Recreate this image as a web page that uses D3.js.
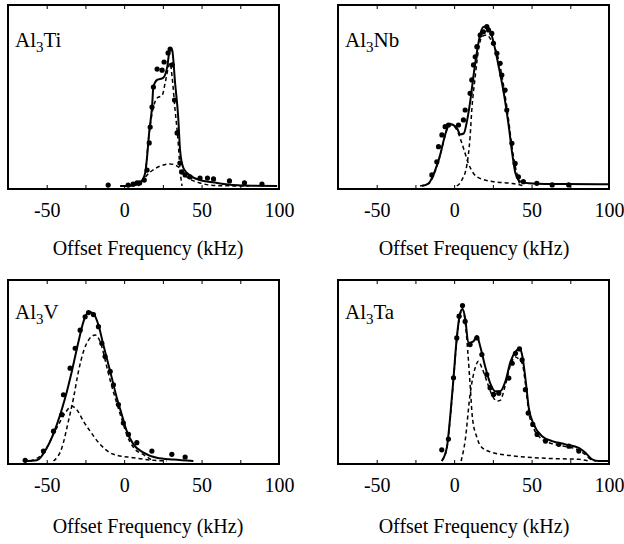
<!DOCTYPE html>
<html lang="en">
	<head>
		<meta charset="utf-8">
		<title>NMR line shapes of Al3X compounds</title>
		<script src="https://cdn.jsdelivr.net/npm/d3@7"></script>
		<style type="text/css">
			body { margin: 0; background: #fff; }
			svg text { font-family: "Liberation Serif", Tinos, "Times New Roman", "DejaVu Serif", serif !important; fill: #000; }
		</style>
	</head>
	<body>
		<script>

			//Axis ticks (kHz)
			var tickLabels = [-50, 0, 50, 100];
			var minorTicks = [-75, -50, -25, 0, 25, 50, 75, 100];

			//Al3Ti: [kHz, intensity]
			var tiDots = [[-10.3,0.005],[2.6,0.005],[5.8,0.01],[8.3,0.017],[10,0.017],[13,0.033],[14.8,0.088],[16.2,0.238],[16.8,0.326],[18,0.436],[18.9,0.547],[21.3,0.646],[24.5,0.64],[25.8,0.685],[28.4,0.735],[29.7,0.757],[31,0.669],[32.5,0.475],[34.2,0.293],[36,0.127],[37.2,0.077],[39.4,0.061],[42.6,0.05],[49,0.044],[53.8,0.044],[57.7,0.039],[68,0.028],[77.7,0.017],[89,0.011]];
			var tiFit = [[-2.6,0],[5.8,0.003],[10.3,0.017],[13.6,0.072],[14.8,0.16],[16.1,0.29],[18,0.436],[18.9,0.547],[21.3,0.586],[25.2,0.597],[27.8,0.657],[29.7,0.762],[31,0.751],[32.9,0.569],[34.9,0.381],[36.1,0.2],[38,0.105],[40.6,0.072],[49,0.033],[60,0.017],[70.4,0.006],[83,0.001],[98.8,0]];
			var tiNarrow = [[9,0],[13.6,0.07],[15.5,0.24],[18,0.4],[21.3,0.486],[24.5,0.5],[26.5,0.57],[28.4,0.65],[29.7,0.68],[31,0.6],[32.9,0.42],[34.9,0.24],[36.1,0.09],[37.4,0]];
			var tiBroad = [[1.9,0],[10.3,0.022],[16.8,0.077],[23.2,0.11],[29.7,0.122],[34.2,0.11],[37.4,0.088],[40.6,0.05],[49,0.017],[60,0.002],[81,0]];

			//Al3Nb
			var nbDots = [[-14.4,0.061],[-11.2,0.134],[-10.1,0.217],[-7.9,0.282],[-5.8,0.328],[-3.7,0.337],[2.8,0.337],[6,0.365],[7.1,0.42],[10.3,0.512],[11.4,0.586],[12.5,0.669],[13.6,0.714],[14.7,0.77],[16.8,0.834],[18.9,0.852],[21.1,0.88],[22.2,0.862],[24.3,0.843],[25.4,0.788],[27.6,0.733],[29.7,0.678],[30.8,0.613],[32.9,0.53],[34,0.42],[37.3,0.236],[39.4,0.125],[41.5,0.051],[44.7,0.024],[53.4,0.015],[63.3,0.006],[74,0.006]];
			var nbFit = [[-20.7,0],[-16.4,0.015],[-12.1,0.09],[-8.8,0.18],[-6.7,0.254],[-4.5,0.319],[-2.6,0.344],[-1.3,0.34],[1.9,0.319],[3.9,0.285],[6.2,0.29],[8.4,0.364],[10.5,0.475],[12.7,0.622],[14.9,0.751],[17,0.844],[19.2,0.88],[21.3,0.88],[23.5,0.853],[25.6,0.788],[28.8,0.659],[32.1,0.512],[35.3,0.328],[37.5,0.18],[39.6,0.07],[42.8,0.024],[48.2,0.015],[59,0.011],[71.9,0.011],[99.9,0.009]];
			var nbLow = [[-22,0],[-16.4,0.013],[-12.1,0.085],[-8.8,0.175],[-6.7,0.25],[-4.5,0.315],[-2.2,0.338],[0,0.33],[2.5,0.295],[5,0.236],[7.1,0.18],[9.2,0.125],[12.5,0.07],[16.8,0.042],[25.4,0.024],[36.2,0.015],[42.6,0.006],[45,0]];
			var nbHigh = [[1.7,0],[5,0.033],[8.2,0.116],[10.3,0.272],[11.4,0.42],[13.6,0.604],[15.7,0.751],[17.9,0.825],[21.1,0.834],[23.2,0.816],[29.7,0.66],[34,0.438],[38.3,0.162],[42.6,0]];

			//Al3V
			var vDots = [[-63.9,0.004],[-52.1,0.055],[-45.6,0.165],[-40.2,0.256],[-39.2,0.366],[-34.9,0.513],[-31.6,0.623],[-28.4,0.723],[-25.2,0.797],[-23,0.82],[-19.8,0.809],[-16.6,0.742],[-14.4,0.65],[-12.3,0.577],[-9,0.495],[-6.9,0.421],[-3.7,0.312],[-0.5,0.21],[2.8,0.147],[8.2,0.101],[17.9,0.055],[30.8,0.037],[39.4,0.022]];
			var vFit = [[-62.9,0],[-56.4,0.004],[-49.9,0.073],[-43.5,0.2],[-38.1,0.348],[-33.8,0.495],[-29.5,0.659],[-26.3,0.769],[-23,0.824],[-19.8,0.815],[-16.6,0.751],[-13.4,0.641],[-9,0.495],[-4.7,0.348],[-1.5,0.256],[1.7,0.165],[6,0.092],[12.5,0.046],[21.1,0.018],[31.8,0.008],[44.7,0]];
			var vLow = [[-60.7,0],[-52.1,0.046],[-43.5,0.183],[-38.1,0.265],[-33.8,0.302],[-30.6,0.284],[-26.3,0.22],[-22,0.165],[-15.5,0.092],[-6.9,0.037],[6,0.018],[18.9,0.004],[27.6,0]];
			var vHigh = [[-45.6,0],[-40.2,0.073],[-36,0.22],[-32.7,0.348],[-29.5,0.495],[-26.3,0.604],[-23,0.668],[-18.7,0.696],[-15.5,0.659],[-11.2,0.52],[-9,0.445],[-4.7,0.318],[-1.5,0.23],[1.7,0.145],[6,0.075],[12.5,0.035],[18.9,0]];

			//Al3Ta
			var taDots = [[-8,0.062],[-3.7,0.121],[-0.4,0.46],[1.7,0.68],[3.2,0.8],[5.4,0.859],[7.1,0.771],[10.3,0.643],[14.7,0.68],[17.9,0.588],[21.1,0.478],[23.2,0.405],[25.4,0.368],[28.8,0.375],[35.3,0.458],[37.5,0.54],[39.6,0.595],[42.2,0.619],[43.9,0.559],[46,0.394],[47.8,0.265],[50.8,0.202],[53.6,0.147],[59,0.11],[67.6,0.092],[74.1,0.082],[80.5,0.055]];
			var taFit = [[-8,0],[-4.7,0.075],[-2.6,0.24],[-0.4,0.46],[1.7,0.68],[3.9,0.817],[5.4,0.84],[7.1,0.79],[9.2,0.652],[12.5,0.661],[14.7,0.69],[16.8,0.634],[20,0.524],[23.2,0.432],[26.5,0.386],[29.7,0.386],[33.1,0.44],[36.4,0.549],[39.6,0.604],[42.2,0.62],[43.9,0.586],[46,0.458],[48.2,0.293],[51.4,0.202],[56.8,0.137],[63.3,0.11],[71.9,0.092],[80.5,0.073],[84.8,0.046],[89.1,0.009],[93.4,0],[100,0]];
			var taLow = [[-8,0],[-4.7,0.07],[-2.6,0.23],[-0.4,0.45],[1.7,0.67],[3.9,0.81],[5.4,0.84],[7.1,0.77],[8.8,0.606],[10.3,0.423],[11.8,0.24],[14.7,0.13],[17.9,0.075],[24.3,0.048],[37.3,0.029],[59,0.015],[80.5,0.009],[87,0]];
			var taHigh = [[4.5,0],[7.1,0.112],[10.3,0.368],[13.6,0.515],[15.7,0.551],[17.9,0.515],[21.1,0.441],[24.3,0.368],[27.6,0.331],[29.7,0.335],[33.1,0.42],[36.4,0.53],[39.6,0.575],[41.5,0.565],[43.9,0.54],[46,0.43],[48.2,0.27],[51.4,0.18],[56.8,0.12],[63.3,0.095],[71.9,0.08],[80.5,0.06],[84.8,0.035],[89,0.005],[92,0]];

			//Panels
			var panels = [
				{ el: "Al", sub: "3", rest: "Ti", dots: tiDots, fit: tiFit, parts: [tiNarrow, tiBroad], x0: 8, x1: 279, y0: 5, y1: 189, titleX: 148 },
				{ el: "Al", sub: "3", rest: "Nb", dots: nbDots, fit: nbFit, parts: [nbLow, nbHigh], x0: 338, x1: 609, y0: 5, y1: 189, titleX: 474 },
				{ el: "Al", sub: "3", rest: "V", dots: vDots, fit: vFit, parts: [vLow, vHigh], x0: 8, x1: 279, y0: 280, y1: 464, titleX: 148 },
				{ el: "Al", sub: "3", rest: "Ta", dots: taDots, fit: taFit, parts: [taLow, taHigh], x0: 338, x1: 609, y0: 280, y1: 464, titleX: 474 }
			];

			var w = 624;
			var h = 544;
			var serif = "'Liberation Serif', Tinos, 'Times New Roman', 'DejaVu Serif', serif";

			var svg = d3.select("body")
						.append("svg")
						.attr("width", w)
						.attr("height", h)
						.attr("font-family", serif);

			panels.forEach(function(p) {

				var xScale = d3.scaleLinear()
									.domain([-75, 100])
									.range([p.x0, p.x1]);

				var yScale = d3.scaleLinear()
									.domain([0, 1])
									.range([p.y1 - 3, p.y0]);

				var line = d3.line()
							.x(function(d) { return xScale(d[0]); })
							.y(function(d) { return yScale(d[1]); })
							.curve(d3.curveMonotoneX);

				var g = svg.append("g");

				//Component fits (dashed)
				p.parts.forEach(function(part) {
					g.append("path")
						.attr("d", line(part))
						.attr("fill", "none")
						.attr("stroke", "#000")
						.attr("stroke-width", 1.5)
						.attr("stroke-dasharray", "4,3");
				});

				//Total fit
				g.append("path")
					.attr("d", line(p.fit))
					.attr("fill", "none")
					.attr("stroke", "#000")
					.attr("stroke-width", 2);

				//Data points
				g.selectAll("circle")
					.data(p.dots)
					.enter()
					.append("circle")
					.attr("cx", function(d) { return xScale(d[0]); })
					.attr("cy", function(d) { return yScale(d[1]); })
					.attr("r", 2.6)
					.attr("fill", "#000");

				//Frame
				g.append("rect")
					.attr("x", p.x0)
					.attr("y", p.y0)
					.attr("width", p.x1 - p.x0)
					.attr("height", p.y1 - p.y0)
					.attr("fill", "none")
					.attr("stroke", "#000")
					.attr("stroke-width", 2);

				//Bottom axis labels
				var bottomAxis = d3.axisBottom(xScale)
									.tickValues(tickLabels)
									.tickSize(0)
									.tickPadding(14)
									.tickFormat(function(d) { return String(d); });

				var ax = g.append("g")
					.attr("transform", "translate(0," + p.y1 + ")")
					.call(bottomAxis)
					.attr("font-family", serif)
					.attr("font-size", 20);
				ax.select(".domain").remove();

				//Small inner ticks, top and bottom
				g.append("g")
					.attr("transform", "translate(0," + p.y0 + ")")
					.call(d3.axisBottom(xScale).tickValues(minorTicks).tickSize(4).tickFormat(""))
					.call(function(s) { s.select(".domain").remove(); });
				g.append("g")
					.attr("transform", "translate(0," + p.y1 + ")")
					.call(d3.axisTop(xScale).tickValues(minorTicks).tickSize(4).tickFormat(""))
					.call(function(s) { s.select(".domain").remove(); });

				//Axis title
				g.append("text")
					.attr("x", p.titleX)
					.attr("y", p.y1 + (p.y0 < 100 ? 66 : 69))
					.attr("text-anchor", "middle")
					.attr("font-size", 20)
					.text("Offset Frequency (kHz)");

				//Compound label
				var lab = g.append("text")
					.attr("x", p.x0 + 7)
					.attr("y", p.y0 + (p.y0 < 100 ? 42 : 39))
					.attr("font-size", 21);
				lab.append("tspan").text(p.el);
				lab.append("tspan").attr("dy", 5).attr("font-size", 15).text(p.sub);
				lab.append("tspan").attr("dy", -5).text(p.rest);
			});

		</script>
	</body>
</html>
